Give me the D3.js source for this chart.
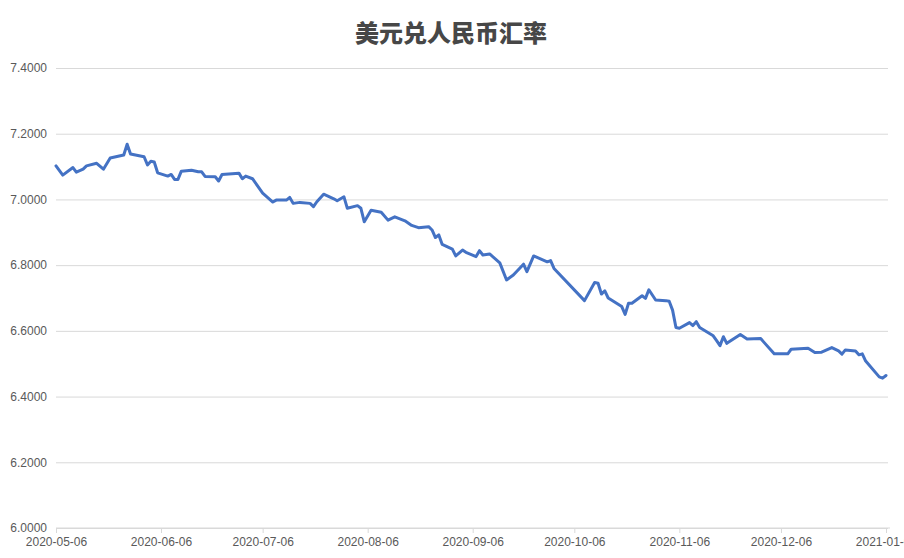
<!DOCTYPE html>
<html>
<head>
<meta charset="utf-8">
<script src="https://cdn.jsdelivr.net/npm/d3@7"></script>
<style>
  body { margin: 0; background: #fff; }
  svg { display: block; }
</style>
</head>
<body>
<div id="chart"></div>
<script>
const title = '美元兑人民币汇率';

const dates = [
  '2020-05-06', '2020-05-08', '2020-05-11', '2020-05-12', '2020-05-14', '2020-05-15', '2020-05-18', '2020-05-20',
  '2020-05-22', '2020-05-26', '2020-05-27', '2020-05-28', '2020-06-01', '2020-06-02', '2020-06-03', '2020-06-04',
  '2020-06-05', '2020-06-08', '2020-06-09', '2020-06-10', '2020-06-11', '2020-06-12', '2020-06-15', '2020-06-17',
  '2020-06-18', '2020-06-19', '2020-06-22', '2020-06-23', '2020-06-24', '2020-06-29', '2020-06-30', '2020-07-01',
  '2020-07-03', '2020-07-06', '2020-07-07', '2020-07-09', '2020-07-10', '2020-07-13', '2020-07-14', '2020-07-15',
  '2020-07-17', '2020-07-20', '2020-07-21', '2020-07-22', '2020-07-24', '2020-07-27', '2020-07-28', '2020-07-30',
  '2020-07-31', '2020-08-03', '2020-08-04', '2020-08-05', '2020-08-07', '2020-08-10', '2020-08-12', '2020-08-14',
  '2020-08-17', '2020-08-19', '2020-08-21', '2020-08-24', '2020-08-25', '2020-08-26', '2020-08-27', '2020-08-28',
  '2020-08-31', '2020-09-01', '2020-09-03', '2020-09-04', '2020-09-07', '2020-09-08', '2020-09-09', '2020-09-11',
  '2020-09-14', '2020-09-16', '2020-09-18', '2020-09-21', '2020-09-22', '2020-09-24', '2020-09-28', '2020-09-29',
  '2020-09-30', '2020-10-09', '2020-10-12', '2020-10-13', '2020-10-14', '2020-10-15', '2020-10-16', '2020-10-20',
  '2020-10-21', '2020-10-22', '2020-10-23', '2020-10-26', '2020-10-27', '2020-10-28', '2020-10-30', '2020-11-02',
  '2020-11-03', '2020-11-04', '2020-11-05', '2020-11-06', '2020-11-09', '2020-11-10', '2020-11-11', '2020-11-12',
  '2020-11-16', '2020-11-17', '2020-11-18', '2020-11-19', '2020-11-20', '2020-11-24', '2020-11-26', '2020-11-30',
  '2020-12-01', '2020-12-04', '2020-12-08', '2020-12-09', '2020-12-14', '2020-12-16', '2020-12-18', '2020-12-21',
  '2020-12-23', '2020-12-24', '2020-12-25', '2020-12-28', '2020-12-29', '2020-12-30', '2020-12-31', '2021-01-04',
  '2021-01-05', '2021-01-06'
];

const rates = [
  7.102, 7.074, 7.097, 7.083, 7.092, 7.102, 7.110, 7.092,
  7.126, 7.135, 7.168, 7.138, 7.130, 7.105, 7.116, 7.114,
  7.081, 7.071, 7.076, 7.061, 7.061, 7.086, 7.089, 7.084,
  7.084, 7.070, 7.069, 7.056, 7.076, 7.080, 7.063, 7.071,
  7.063, 7.019, 7.010, 6.992, 6.998, 6.998, 7.006, 6.988,
  6.991, 6.988, 6.978, 6.993, 7.016, 7.002, 6.996, 7.008,
  6.973, 6.981, 6.973, 6.932, 6.967, 6.961, 6.937, 6.947,
  6.935, 6.921, 6.914, 6.917, 6.907, 6.884, 6.892, 6.863,
  6.849, 6.828, 6.846, 6.839, 6.826, 6.844, 6.831, 6.834,
  6.807, 6.755, 6.770, 6.803, 6.780, 6.828, 6.810, 6.814,
  6.790, 6.692, 6.747, 6.745, 6.712, 6.722, 6.700, 6.674,
  6.650, 6.684, 6.684, 6.707, 6.699, 6.725, 6.694, 6.692,
  6.690, 6.663, 6.610, 6.608, 6.625, 6.616, 6.628, 6.610,
  6.585, 6.570, 6.555, 6.582, 6.562, 6.589, 6.575, 6.577,
  6.565, 6.530, 6.530, 6.544, 6.547, 6.534, 6.535, 6.549,
  6.539, 6.529, 6.542, 6.539, 6.527, 6.530, 6.508, 6.460,
  6.456, 6.464
];

const xTickLabels = ['2020-05-06', '2020-06-06', '2020-07-06', '2020-08-06', '2020-09-06',
  '2020-10-06', '2020-11-06', '2020-12-06', '2021-01-06'];
const yTicks = [6.0, 6.2, 6.4, 6.6, 6.8, 7.0, 7.2, 7.4];

const width = 904;
const height = 558;
const margin = { top: 68, right: 15, bottom: 30, left: 56 };

const parse = d3.timeParse('%Y-%m-%d');
const data = dates.map((d, i) => ({ date: parse(d), value: rates[i] }));

const svg = d3.select('#chart').append('svg')
  .attr('width', width)
  .attr('height', height);

const x = d3.scaleTime()
  .domain([parse('2020-05-06'), parse('2021-01-06')])
  .range([margin.left, 886]);

const y = d3.scaleLinear()
  .domain([6.0, 7.4])
  .range([height - margin.bottom, margin.top]);

// title
svg.append('text')
  .attr('x', 451)
  .attr('y', 42)
  .attr('text-anchor', 'middle')
  .attr('font-family', '"Noto Sans CJK SC", sans-serif')
  .attr('font-size', 24)
  .attr('font-weight', 900)
  .attr('fill', '#474747')
  .text(title);

// gridlines + y labels
const yAxis = svg.append('g')
  .attr('transform', `translate(${margin.left},0)`)
  .call(d3.axisLeft(y)
    .tickValues(yTicks)
    .tickSize(-(width - margin.right - margin.left - 1))
    .tickPadding(9)
    .tickFormat(d3.format('.4f')));
yAxis.select('.domain').remove();
yAxis.selectAll('.tick line').attr('stroke', '#d9d9d9');
yAxis.selectAll('.tick text')
  .attr('font-family', '"Liberation Sans", Arial, sans-serif')
  .attr('font-size', 12)
  .attr('fill', '#595959');

// x axis
const xAxis = svg.append('g')
  .attr('transform', `translate(0,${height - margin.bottom})`)
  .call(d3.axisBottom(x)
    .tickValues(xTickLabels.map(parse))
    .tickSize(5)
    .tickPadding(4)
    .tickFormat(d3.timeFormat('%Y-%m-%d')));
xAxis.select('.domain')
  .attr('d', `M${margin.left},0H${width - margin.right + 1}`)
  .attr('stroke', '#d9d9d9');
xAxis.selectAll('.tick line').attr('stroke', '#d9d9d9');
xAxis.selectAll('.tick text')
  .attr('font-family', '"Liberation Sans", Arial, sans-serif')
  .attr('font-size', 12)
  .attr('fill', '#595959');

// line
const line = d3.line()
  .x(d => x(d.date))
  .y(d => y(d.value));

svg.append('path')
  .datum(data)
  .attr('fill', 'none')
  .attr('stroke', '#4472c4')
  .attr('stroke-width', 3)
  .attr('stroke-linejoin', 'round')
  .attr('stroke-linecap', 'round')
  .attr('d', line);
</script>
</body>
</html>
